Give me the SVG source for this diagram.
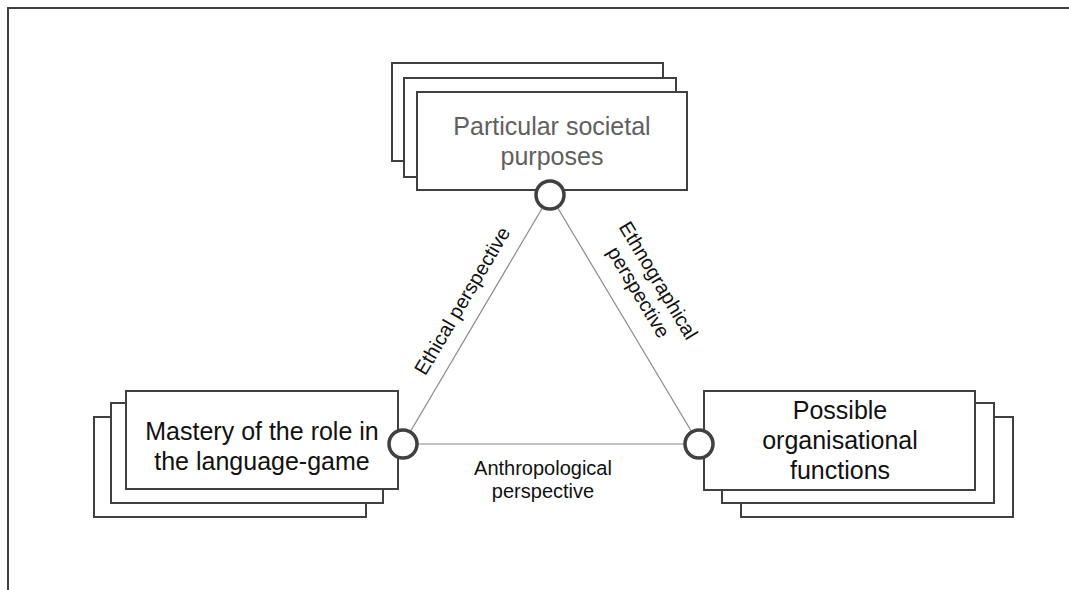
<svg xmlns="http://www.w3.org/2000/svg" width="1069" height="590" viewBox="0 0 1069 590">
<style>
.box{fill:#fff;stroke:#404040;stroke-width:2}
.port{fill:#fff;stroke:#404040;stroke-width:3.5}
.edge{stroke:#8a8a8a;stroke-width:1.2;fill:none}
.frame{stroke:#404040;stroke-width:2;fill:none}
.nt{font-family:"Liberation Sans",Arial,sans-serif;font-size:25px;fill:#111;text-anchor:middle}
.et{font-family:"Liberation Sans",Arial,sans-serif;font-size:20px;fill:#111;text-anchor:middle}
</style>
<rect width="1069" height="590" fill="#fff"/>
<path class="frame" d="M8 590 V8 H1069"/>
<g id="connectors">
<line class="edge" x1="550" y1="195" x2="403" y2="444"/>
<line class="edge" x1="550" y1="195" x2="699" y2="444"/>
<line class="edge" x1="403" y1="444" x2="699" y2="444"/>
<text class="et" transform="translate(481,312) rotate(-59.4)" x="0" y="-15">Ethical perspective</text>
<text class="et" transform="translate(616.5,305.5) rotate(59.1)"><tspan x="0" y="-42">Ethnographical</tspan><tspan x="0" y="-19">perspective</tspan></text>
<text class="et"><tspan x="543" y="475">Anthropological</tspan><tspan x="543" y="498">perspective</tspan></text>
</g>
<g id="node-societal">
<rect class="box" x="392" y="63" width="271" height="98"/>
<rect class="box" x="404" y="78" width="272" height="99"/>
<rect class="box" x="417" y="92" width="270" height="98"/>
<text class="nt" style="fill:#606060"><tspan x="552" y="135">Particular societal</tspan><tspan x="552" y="165">purposes</tspan></text>
<circle class="port" cx="550" cy="195" r="14"/>
</g>
<g id="node-mastery">
<rect class="box" x="94" y="417" width="272" height="100"/>
<rect class="box" x="111" y="403" width="272" height="100"/>
<rect class="box" x="126" y="391" width="272" height="98"/>
<text class="nt"><tspan x="262" y="440">Mastery of the role in</tspan><tspan x="262" y="470">the language-game</tspan></text>
<circle class="port" cx="403" cy="444" r="14"/>
</g>
<g id="node-functions">
<rect class="box" x="741" y="417" width="272" height="100"/>
<rect class="box" x="722" y="403" width="272" height="100"/>
<rect class="box" x="704" y="391" width="271" height="99"/>
<text class="nt"><tspan x="840" y="419">Possible</tspan><tspan x="840" y="449">organisational</tspan><tspan x="840" y="479">functions</tspan></text>
<circle class="port" cx="699" cy="444" r="14"/>
</g>
</svg>
